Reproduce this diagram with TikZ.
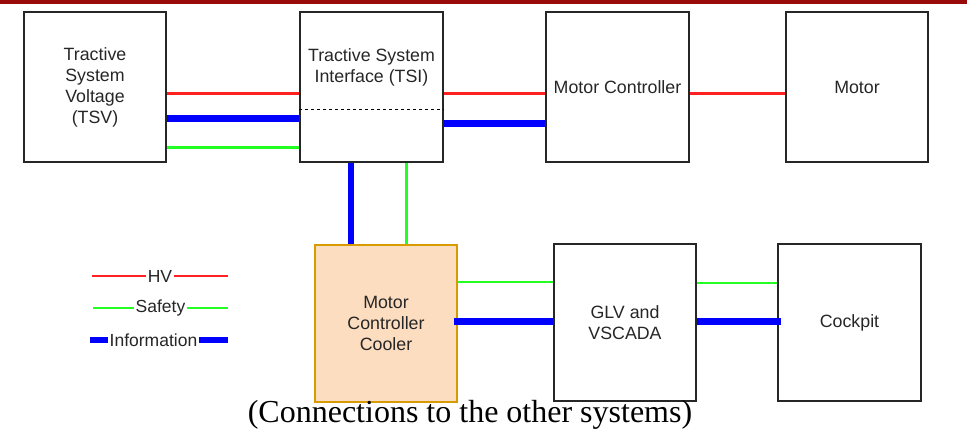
\documentclass[tikz,border=0pt]{standalone}
\usepackage{fontspec}
\setmainfont{Liberation Sans}
\newfontfamily\captionserif{Liberation Serif}
\definecolor{barred}{HTML}{990A0A}
\definecolor{hvred}{HTML}{FF2020}
\definecolor{safegreen}{HTML}{22FF22}
\definecolor{infoblue}{HTML}{0000FF}
\definecolor{coolfill}{HTML}{FDDDC0}
\definecolor{coolline}{HTML}{D79B00}

\begin{document}
\begin{tikzpicture}[x=1pt,y=-1pt,
    blk/.style={draw=black!85, line width=1.2pt, minimum width=142pt, minimum height=150pt,
                align=center, inner sep=0pt, text=black!85, font=\fontsize{17.8}{21}\selectfont},
    hv/.style={draw=hvred, line width=3pt},
    safety/.style={draw=safegreen, line width=2.5pt},
    info/.style={draw=infoblue, line width=6.5pt},
    legtxt/.style={fill=white, inner sep=2pt, text=black!85, font=\fontsize{17.5}{21}\selectfont}]
	\useasboundingbox (0,0) rectangle (967,431);
	\fill[barred] (0,0) rectangle (967,3.5);

	% top row
	\node[blk] (tsv) at (95,87) {Tractive\\System\\Voltage\\(TSV)};
	\node[blk, minimum width=143pt] (tsi) at (371.5,87) {Tractive System\\Interface (TSI)\\[22pt]};
	\node[blk, minimum width=143pt] (mc) at (617.5,87) {Motor Controller};
	\node[blk] (motor) at (857,87) {Motor};

	% bottom row
	\node[blk, minimum height=157pt, fill=coolfill, draw=coolline] (mcc) at (386,323.5) {Motor\\Controller\\Cooler};
	\node[blk, minimum height=157pt] (glv) at (625,322.5) {GLV and\\VSCADA};
	\node[blk, minimum height=157pt, minimum width=143pt] (cockpit) at (849.5,322.5) {Cockpit};

	\draw[dashed, line width=0.8pt] (tsi.west |- 0,109) -- (tsi.east |- 0,109);

	% connections
	\draw[hv] (tsv.east |- 0,93) -- (tsi.west |- 0,93);
	\draw[info] (tsv.east |- 0,118.5) -- (tsi.west |- 0,118.5);
	\draw[safety] (tsv.east |- 0,147.5) -- (tsi.west |- 0,147.5);
	\draw[hv] (tsi.east |- 0,93) -- (mc.west |- 0,93);
	\draw[info] (tsi.east |- 0,123.5) -- (mc.west |- 0,123.5);
	\draw[hv] (mc.east |- 0,93) -- (motor.west |- 0,93);
	\draw[info] (tsi.south -| 351,0) -- (mcc.north -| 351,0);
	\draw[safety] (tsi.south -| 406.5,0) -- (mcc.north -| 406.5,0);
	\draw[safety] (mcc.east |- 0,282) -- (glv.west |- 0,282);
	\draw[info] (mcc.east |- 0,321.5) ++(-4,0) -- (glv.west |- 0,321.5);
	\draw[safety] (glv.east |- 0,283) -- (cockpit.west |- 0,283);
	\draw[info] (glv.east |- 0,321.5) -- (cockpit.west |- 0,321.5) -- ++(4,0);

	% legend
	\coordinate (hvL) at (92,276);  \coordinate (hvR) at (228,276);
	\coordinate (sfL) at (93,308);  \coordinate (sfR) at (228,308);
	\coordinate (inL) at (90,340);  \coordinate (inR) at (228,340);
	\draw[hv, line width=2.5pt] (hvL) -- node[legtxt]{HV} (hvR);
	\draw[safety] (sfL) -- node[legtxt]{Safety} (sfR);
	\draw[info, line width=5.5pt] (inL) -- node[legtxt, pos=.46]{Information} (inR);

	\node[font=\captionserif\fontsize{32}{36}\selectfont] (cap) at (470,415) {(Connections to the other systems)};
\end{tikzpicture}
\end{document}
